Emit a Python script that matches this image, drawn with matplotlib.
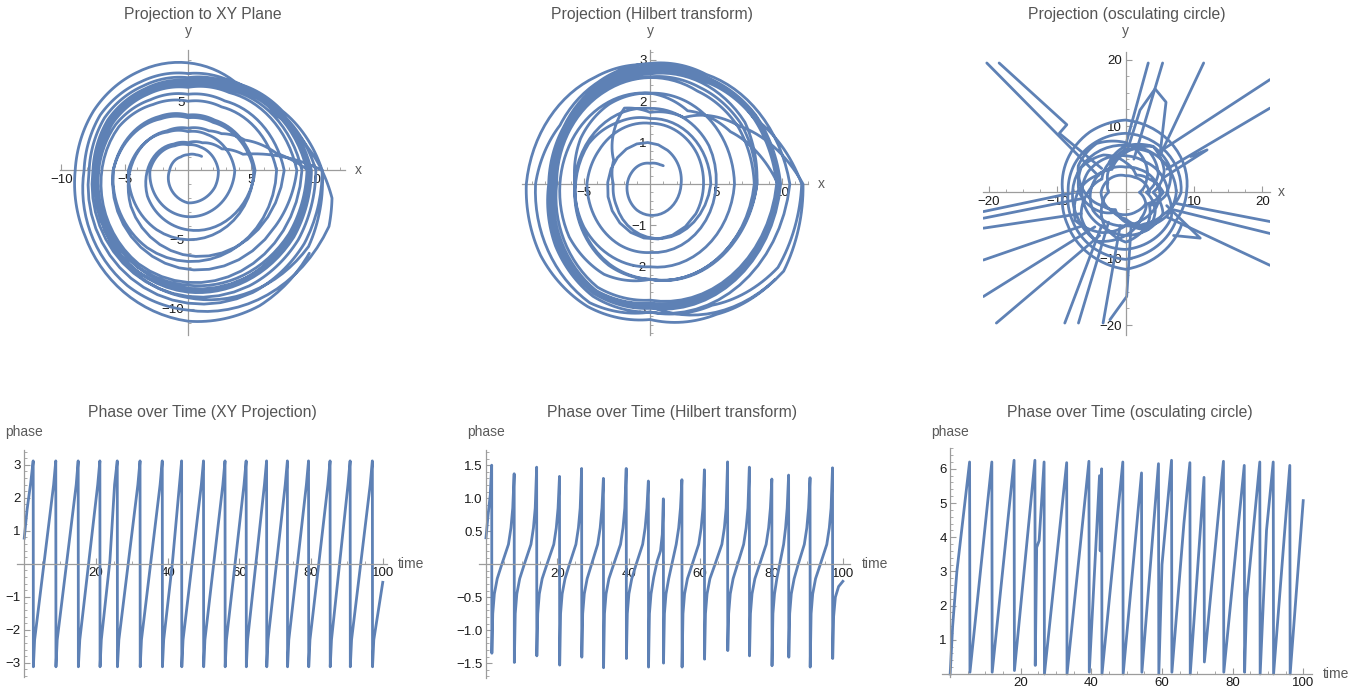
import numpy as np
import matplotlib
matplotlib.use("Agg")
import matplotlib.pyplot as plt
from matplotlib.path import Path
from matplotlib.patches import PathPatch
from matplotlib.ticker import FixedLocator, MultipleLocator, FuncFormatter

plt.rcParams['font.family'] = ['Liberation Sans', 'DejaVu Sans']

W, H = 1372, 696
LINE = '#5e81b5'
AXIS = '#9c9c9c'
LABEL = '#5a5a5a'
LW = 2.0

# --- xy projection: radius at each polar angle (deg), one row per revolution ---
# plain rows are sampled every 30 deg starting at 0; tuple rows list (deg, r)
xy_turns = [
    [(43, 1.48), (60, 1.30), (90, 1.13), (120, 1.12), (150, 1.25), (180, 1.45),
     (210, 1.75), (240, 2.10), (270, 2.35), (300, 2.45), (330, 2.45)],
    [2.40, 2.15, 1.95, 1.85, 2.05, 2.50, 3.00, 3.15, 3.25, 3.30, 3.45, 3.60],
    [3.70, 3.35, 3.00, 2.80, 3.20, 3.95, 4.70, 4.85, 4.95, 5.00, 5.10, 5.15],
    [5.20, 4.60, 4.00, 3.80, 4.30, 5.20, 5.90, 6.20, 6.45, 6.60, 6.80, 6.95],
    [7.00, 6.20, 5.30, 5.00, 5.50, 6.30, 6.80, 7.30, 7.80, 8.10, 8.50, 8.80],
    [9.00, 7.90, 6.70, 6.10, 6.45, 6.95, 7.20, 7.75, 8.50, 9.20, 10.20, 11.00],
    [(0, 10.6), (5, 7.3), (15, 4.5), (30, 3.1), (60, 2.3), (90, 2.0), (120, 2.2),
     (150, 2.75), (180, 3.3), (210, 3.7), (240, 4.05), (270, 4.3), (300, 4.6), (330, 4.95)],
    [5.30, 4.70, 4.20, 4.00, 4.50, 5.30, 5.90, 6.30, 6.75, 7.10, 7.50, 8.00],
    [8.60, 7.60, 6.50, 6.00, 6.35, 6.85, 7.10, 7.60, 8.15, 8.50, 9.00, 9.35],
    [(0, 9.5), (10, 7.1), (26, 5.0), (45, 3.75), (60, 3.3), (90, 3.05), (120, 3.3),
     (150, 3.95), (180, 4.7), (210, 5.2), (240, 5.7), (270, 6.1), (300, 6.6), (330, 7.1)],
    [7.60, 6.70, 5.80, 5.50, 5.90, 6.60, 7.00, 7.50, 8.00, 8.30, 8.80, 9.20],
    [9.40, 8.05, 6.85, 6.20, 6.50, 7.00, 7.15, 7.70, 8.30, 8.60, 9.10, 9.45],
    [9.55, 8.15, 6.95, 6.35, 6.65, 7.10, 7.30, 7.85, 8.45, 8.80, 9.30, 9.65],
    [9.75, 8.25, 7.05, 6.50, 6.80, 7.30, 7.50, 8.05, 8.70, 9.10, 9.65, 10.05],
    [10.10, 8.40, 7.15, 6.70, 7.05, 7.60, 7.80, 8.40, 9.10, 9.60, 10.20, 10.60],
    [(0, 10.6), (30, 8.6), (60, 7.3), (90, 7.0), (120, 7.4), (150, 8.0), (180, 8.2),
     (210, 8.9), (240, 9.6), (270, 10.1), (300, 10.9), (325, 11.6), (340, 11.85),
     (350, 11.55)],
    [(0, 10.8), (10, 9.6), (20, 8.5), (30, 8.0), (60, 7.4), (90, 7.75), (120, 8.15),
     (150, 8.6), (180, 8.9), (210, 9.4), (240, 10.2), (270, 10.9), (300, 11.3), (328, 11.3)],
]

# --- Hilbert projection: radius in x units, vertical part in units of HB_Y_PER_R ---
HB_Y_PER_R = 0.36
hb_turns = [
    [(51, 1.58), (60, 1.50), (90, 1.39), (120, 1.45), (150, 1.60), (180, 1.77),
     (210, 1.92), (240, 2.02), (270, 2.08), (300, 2.18), (330, 2.28)],
    [2.35, 2.45, 2.62, 2.78, 2.95, 3.15, 3.35, 3.45, 3.55, 3.70, 3.85, 4.00],
    [4.10, 4.10, 4.08, 4.08, 4.25, 4.50, 4.80, 4.80, 4.70, 4.60, 4.75, 4.95],
    [5.15, 5.15, 5.10, 5.08, 5.30, 5.55, 5.75, 5.80, 5.70, 5.56, 5.80, 6.10],
    [6.40, 6.35, 6.20, 6.10, 6.30, 6.60, 6.90, 7.10, 7.00, 6.40, 6.90, 7.40],
    [8.10, 8.00, 7.50, 7.20, 7.20, 7.25, 7.30, 7.90, 8.30, 8.20, 9.90, 11.70],
    [(0, 11.6), (30, 7.8), (60, 5.15), (90, 4.81), (111, 5.46), (120, 4.84), (126, 4.47),
     (135, 3.82), (150, 3.2), (165, 2.92), (180, 2.8), (210, 2.95), (240, 3.3),
     (270, 3.75), (300, 4.0), (330, 4.3)],
    [4.60, 4.50, 4.40, 4.40, 4.80, 5.40, 5.70, 6.00, 6.20, 6.40, 6.90, 7.50],
    [8.10, 8.30, 7.80, 7.40, 7.30, 7.25, 7.30, 7.85, 8.25, 8.00, 8.60, 9.30],
    [9.70, 7.03, 5.68, 6.10, 6.20, 6.10, 5.70, 6.00, 6.30, 6.40, 6.90, 7.40],
    [7.90, 7.70, 7.20, 7.10, 7.10, 7.10, 7.10, 7.60, 8.00, 7.80, 8.40, 9.10],
    [9.60, 9.00, 8.00, 7.50, 7.40, 7.30, 7.30, 7.90, 8.30, 8.05, 8.60, 9.30],
    [9.70, 9.10, 8.10, 7.60, 7.50, 7.40, 7.40, 8.00, 8.40, 8.20, 8.75, 9.45],
    [9.80, 9.20, 8.20, 7.75, 7.60, 7.45, 7.50, 8.10, 8.50, 8.35, 8.90, 9.60],
    [9.90, 9.25, 8.30, 7.90, 7.75, 7.60, 7.70, 8.30, 8.70, 8.60, 9.30, 10.10],
    [10.60, 9.50, 8.50, 8.10, 7.90, 7.90, 8.70, 9.00, 9.20, 8.60, 9.40, 11.20],
    [(0, 11.5), (30, 9.0), (60, 8.3), (90, 8.0), (120, 8.3), (150, 8.8), (180, 9.4),
     (210, 9.6), (240, 9.5), (270, 9.1), (300, 10.1), (326, 11.45)],
]

# --- osculating circle centres: loops around the middle plus the far excursions ---
osc_rings = [
    [3.5, 3.0, 2.6, 2.5, 2.9, 3.4, 3.6, 3.5, 3.3, 3.2, 3.3, 3.4],
    [2.0, 3.5, 5.5, 7.5, 8.5, 8.0, 6.0, 4.0, 3.0, 4.5, 6.5, 5.0],
    [5.0, 4.5, 4.0, 3.8, 4.2, 4.8, 5.2, 5.5, 5.3, 5.0, 4.8, 4.9],
    [3.0, 5.5, 7.0, 6.5, 4.5, 3.0, 2.5, 4.0, 6.0, 7.5, 6.0, 4.0],
    [6.2, 5.8, 5.4, 5.5, 5.9, 6.3, 6.4, 6.3, 6.2, 6.5, 6.5, 6.3],
    [4.0, 6.5, 8.0, 7.0, 5.0, 4.0, 5.5, 7.5, 8.5, 6.5, 4.5, 3.5],
    [5.5, 4.0, 3.0, 4.5, 6.5, 7.5, 6.8, 5.0, 3.5, 4.0, 6.0, 7.0],
    [7.4, 7.2, 7.1, 7.1, 7.3, 7.6, 7.7, 8.0, 8.5, 8.6, 8.2, 7.7],
    [6.0, 7.5, 8.0, 6.0, 4.0, 5.0, 7.0, 8.5, 7.0, 5.0, 5.5, 6.5],
    [8.1, 8.4, 8.7, 8.9, 8.8, 8.6, 8.4, 8.9, 9.6, 10.1, 9.3, 8.5],
    [8.9, 9.6, 10.3, 10.9, 10.5, 9.8, 9.2, 9.8, 10.8, 11.6, 10.6, 9.5],
]
osc_spikes = [
    [(-4.0, 2.5), (-20.3, 19.5)],
    [(-3.5, 3.6), (-9.7, 8.9), (-8.6, 10.2), (-18.5, 19.5)],
    [(-0.3, 6.0), (3.3, 19.5)],
    [(1.2, 5.0), (5.4, 19.5)],
    [(0.3, 6.5), (2.1, 12.4), (4.3, 15.6), (5.9, 13.6), (5.0, 5.5)],
    [(5.0, 5.5), (11.4, 19.5)],
    [(5.5, 6.5), (21.1, 17.0)],
    [(6.0, 3.5), (21.1, 12.7)],
    [(5.5, 2.2), (11.9, 6.4), (9.5, 5.4)],
    [(7.5, -1.7), (21.1, -4.4)],
    [(6.5, -2.5), (21.1, -6.2)],
    [(6.0, -3.7), (21.1, -11.0)],
    [(6.0, -2.0), (10.9, -6.9), (7.0, -6.5)],
    [(-6.5, 0.2), (-20.8, -2.9)],
    [(-6.2, -0.9), (-20.8, -3.9)],
    [(-6.5, -3.2), (-20.8, -5.4)],
    [(-6.2, -5.0), (-20.8, -10.2)],
    [(-4.5, -5.2), (-20.8, -15.7)],
    [(-3.8, -6.5), (-18.9, -19.7)],
    [(-3.5, -5.0), (-8.9, -19.7)],
    [(-2.5, -4.5), (-6.9, -19.7)],
    [(-0.8, -5.0), (-3.3, -19.7)],
    [(0.8, -5.0), (0.15, -15.7), (-2.3, -19.2)],
]

# --- phase series (time, phase) ---
xy_phase_t = [0.0, 0.8, 1.8, 2.5, 2.55, 2.9, 8.2, 8.8, 8.85, 9.2, 14.5, 15.05,
              15.1, 15.5, 20.5, 21.1, 21.15, 21.5, 23.9, 25.2, 25.95, 26.0, 26.4, 31.7, 32.3,
              32.35, 32.7, 37.9, 38.5, 38.55, 38.9, 41.3, 43.3, 43.9, 43.95, 44.3, 49.4, 50.0,
              50.05, 50.4, 55.4, 56.0, 56.05, 56.4, 61.3, 61.9, 61.95, 62.3, 67.0, 67.6,
              67.65, 68.0, 72.8, 73.4, 73.45, 73.8, 78.7, 79.3, 79.35, 79.7, 84.7, 85.3,
              85.35, 85.7, 90.3, 90.9, 90.95, 91.3, 96.5, 97.1, 97.15, 97.5, 100.0]
xy_phase_v = [0.78, 1.65, 2.45, 3.12, -3.12, -2.3, 2.4, 3.12, -3.12, -2.3, 2.4, 3.12,
              -3.12, -2.3, 2.4, 3.12, -3.12, -2.3, 0.1, 2.4, 3.12, -3.12, -2.3, 2.4, 3.12,
              -3.12, -2.3, 2.4, 3.12, -3.12, -2.3, 0.0, 2.4, 3.12, -3.12, -2.3, 2.4, 3.12,
              -3.12, -2.3, 2.4, 3.12, -3.12, -2.3, 2.4, 3.12, -3.12, -2.3, 2.4, 3.12,
              -3.12, -2.3, 2.4, 3.12, -3.12, -2.3, 2.4, 3.12, -3.12, -2.3, 2.4, 3.12,
              -3.12, -2.3, 2.4, 3.12, -3.12, -2.3, 2.4, 3.12, -3.12, -2.3, -0.56]

hb_phase = [
    (0.0, 0.40), (0.6, 0.75), (1.2, 1.05), (1.6, 1.50),
    (1.65, -1.35), (1.9, -0.75), (2.35, -0.45), (3.15, -0.22), (4.45, 0.0), (6.3, 0.30), (7.0, 0.55), (7.5, 0.85), (7.9, 1.37),
    (7.95, -1.49), (8.2, -0.75), (8.65, -0.45), (9.45, -0.22), (10.75, 0.0), (12.6, 0.30), (13.3, 0.55), (13.8, 0.85), (14.2, 1.47),
    (14.25, -1.39), (14.5, -0.75), (14.95, -0.45), (15.75, -0.22), (17.1, 0.0), (19.0, 0.30), (19.7, 0.55), (20.2, 0.85), (20.6, 1.33),
    (20.65, -1.53), (20.9, -0.75), (21.35, -0.45), (22.15, -0.22), (23.4, 0.0), (25.2, 0.30), (25.9, 0.55), (26.4, 0.85), (26.8, 1.45),
    (26.85, -1.41), (27.1, -0.75), (27.55, -0.45), (28.35, -0.22), (29.6, 0.0), (31.3, 0.30), (32.0, 0.55), (32.5, 0.85), (32.9, 1.30),
    (32.95, -1.57), (33.2, -0.75), (33.65, -0.45), (34.45, -0.22), (35.8, 0.0), (37.7, 0.30), (38.4, 0.55), (38.9, 0.85), (39.3, 1.45),
    (39.35, -1.43), (39.6, -0.75), (40.05, -0.45), (40.85, -0.22), (42.1, 0.0), (43.9, 0.30), (44.6, 0.55), (45.1, 0.85), (45.5, 1.26),
    (45.55, -1.56), (45.8, -0.75), (46.25, -0.45), (47.0, -0.20), (48.0, 0.05), (48.9, 0.20), (49.4, 0.45), (49.7, 0.99),
    (49.75, -1.50), (50.0, -0.75), (50.45, -0.45), (51.2, -0.22), (52.1, 0.0), (53.3, 0.30), (54.0, 0.55), (54.5, 0.85), (54.9, 1.28),
    (54.95, -1.56), (55.2, -0.75), (55.65, -0.45), (56.45, -0.22), (57.8, 0.0), (59.6, 0.30), (60.3, 0.55), (60.8, 0.85), (61.2, 1.43),
    (61.25, -1.44), (61.5, -0.75), (61.95, -0.45), (62.75, -0.22), (64.2, 0.0), (66.1, 0.30), (66.8, 0.55), (67.3, 0.85), (67.7, 1.55),
    (67.75, -1.31), (68.0, -0.75), (68.45, -0.45), (69.25, -0.22), (70.5, 0.0), (72.2, 0.30), (72.9, 0.55), (73.4, 0.85), (73.8, 1.47),
    (73.85, -1.39), (74.1, -0.75), (74.55, -0.45), (75.35, -0.22), (76.7, 0.0), (78.5, 0.30), (79.2, 0.55), (79.7, 0.85), (80.1, 1.29),
    (80.15, -1.54), (80.4, -0.75), (80.85, -0.45), (81.5, -0.22), (82.3, 0.0), (83.4, 0.30), (83.95, 0.55), (84.4, 0.85), (84.8, 1.35),
    (84.85, -1.41), (85.1, -0.75), (85.55, -0.45), (86.35, -0.22), (87.5, 0.0), (89.2, 0.30), (89.9, 0.55), (90.4, 0.85), (90.8, 1.31),
    (90.85, -1.56), (91.1, -0.75), (91.55, -0.45), (92.35, -0.22), (93.7, 0.0), (95.5, 0.30), (96.2, 0.55), (96.7, 0.85), (97.1, 1.46),
    (97.15, -1.43), (97.4, -0.80), (97.9, -0.50), (98.8, -0.34), (100.0, -0.26),
]

osc_phase = [
    (0.0, 0.0), (0.7, 1.4), (1.9, 3.0), (5.5, 6.2),
    (5.6, 0.05), (11.8, 6.2),
    (11.9, 0.05), (18.1, 6.25),
    (18.2, 0.1), (24.0, 6.25),
    (24.1, 0.25), (24.5, 3.7), (25.2, 3.9), (26.6, 6.2),
    (26.7, 0.0), (33.0, 6.18),
    (33.1, 0.0), (39.3, 6.22),
    (39.4, 0.05), (42.3, 5.8), (42.5, 3.6), (42.9, 6.0),
    (43.0, 0.0), (48.9, 6.2),
    (49.0, 0.0), (54.2, 5.88),
    (54.3, 0.05), (59.0, 6.15),
    (59.1, 0.0), (60.0, 3.2), (62.7, 6.25),
    (62.8, 0.05), (66.2, 4.4), (67.9, 6.18),
    (68.0, 0.0), (71.9, 5.75),
    (72.0, 0.35), (77.4, 6.22),
    (77.5, 0.05), (83.3, 6.1),
    (83.4, 0.05), (84.0, 2.2), (87.7, 6.2),
    (87.8, 0.0), (89.6, 4.2), (91.5, 6.2),
    (91.6, 0.0), (96.2, 6.1),
    (96.3, 0.0), (100.0, 5.07),
]

GRID30 = list(range(0, 360, 30))


def unroll(turns):
    """Flatten per-revolution rows into continuous (theta, r) arrays."""
    deg, rad = [], []
    for k, row in enumerate(turns):
        pairs = row if isinstance(row[0], tuple) else zip(GRID30, row)
        for d, r in pairs:
            deg.append(d + 360 * k)
            rad.append(r)
    return np.radians(deg), np.array(rad)


fig = plt.figure(figsize=(W / 100, H / 100), dpi=100)


def make_axes(box, xlim, ylim):
    l, r, t, b = box
    ax = fig.add_axes([l / W, 1 - b / H, (r - l) / W, (b - t) / H])
    ax.set_xlim(xlim)
    ax.set_ylim(ylim)
    ax.patch.set_visible(False)
    for s in ('top', 'right'):
        ax.spines[s].set_visible(False)
    for s in ('left', 'bottom'):
        ax.spines[s].set_position(('data', 0))
        ax.spines[s].set_color(AXIS)
        ax.spines[s].set_linewidth(0.9)
    return ax


def set_ticks(ax, xt, xminor, yt, yminor, xfmt='%d', yfmt='%d'):
    ax.xaxis.set_major_locator(FixedLocator(xt))
    ax.yaxis.set_major_locator(FixedLocator(yt))
    ax.xaxis.set_minor_locator(MultipleLocator(xminor))
    ax.yaxis.set_minor_locator(MultipleLocator(yminor))
    ax.xaxis.set_major_formatter(FuncFormatter(lambda v, p: (xfmt % v).replace('-', '\u2212')))
    ax.yaxis.set_major_formatter(FuncFormatter(lambda v, p: (yfmt % v).replace('-', '\u2212')))
    ax.tick_params(which='major', direction='in', length=4.5, width=0.8, color=AXIS,
                   labelsize=9.5, labelcolor='#1a1a1a', pad=2.5)
    ax.tick_params(which='minor', direction='in', length=2.5, width=0.6, color=AXIS)


def axis_names(ax, xname, yname, xgap, ygap):
    ax.text(1 + xgap, 0, xname, transform=ax.get_yaxis_transform(), ha='left',
            va='center', fontsize=10, color=LABEL)
    ax.text(0, 1 + ygap, yname, transform=ax.get_xaxis_transform(), ha='center',
            va='center', fontsize=10, color=LABEL)


def polar_overlay(ax, rmax, v_unit=1.0):
    """Transparent polar axes centred on ax's origin; one radial unit spans one
    x unit horizontally and v_unit y units vertically."""
    pos = ax.get_position()
    x0, x1 = ax.get_xlim()
    y0, y1 = ax.get_ylim()
    sx = pos.width / (x1 - x0)
    sy = pos.height / (y1 - y0)
    cx = pos.x0 - x0 * sx
    cy = pos.y0 - y0 * sy
    w = 2 * rmax * sx
    h = 2 * rmax * sy * v_unit
    pax = fig.add_axes([cx - w / 2, cy - h / 2, w, h], projection='polar')
    pax.set_aspect('auto')
    pax.set_axis_off()
    pax.set_ylim(0, rmax)
    return pax


def spiral(pax, theta, r):
    # steps > 1 lets the polar transform sweep each segment as an arc
    path = Path(np.column_stack([theta, r]), _interpolation_steps=16)
    pax.add_patch(PathPatch(path, fill=False, edgecolor=LINE, lw=LW,
                            joinstyle='round', capstyle='round'))


def title(cx, cy, text):
    fig.text(cx / W, 1 - cy / H, text, ha='center', va='center',
             fontsize=11.3, color='#555555')


# top row: projections
ax1 = make_axes((60, 345, 50, 335), (-10.1, 12.4), (-11.9, 8.7))
set_ticks(ax1, [-10, -5, 5, 10], 1, [-10, -5, 5], 1)
axis_names(ax1, 'x', 'y', 0.035, 0.067)
th, r = unroll(xy_turns)
spiral(polar_overlay(ax1, 14), th, r)
title(203, 15, 'Projection to XY Plane')

ax2 = make_axes((521.7, 808.3, 50, 335), (-9.75, 12.0), (-3.65, 3.24))
set_ticks(ax2, [-5, 5, 10], 1, [-3, -2, -1, 1, 2, 3], 0.2)
axis_names(ax2, 'x', 'y', 0.034, 0.067)
th, r = unroll(hb_turns)
spiral(polar_overlay(ax2, 14, HB_Y_PER_R), th, r)
title(652, 15, 'Projection (Hilbert transform)')

ax3 = make_axes((982.7, 1270, 51.7, 335), (-20.9, 21.1), (-21.5, 21.2))
set_ticks(ax3, [-20, -10, 10, 20], 2.5, [-20, -10, 10, 20], 2.5)
axis_names(ax3, 'x', 'y', 0.028, 0.073)
th, r = unroll(osc_rings)
spiral(polar_overlay(ax3, 14), th, r)
for seg in osc_spikes:
    sx, sy = zip(*seg)
    ax3.plot(sx, sy, color=LINE, lw=LW, solid_joinstyle='round', solid_capstyle='round')
title(1127, 15, 'Projection (osculating circle)')

# bottom row: phase against time
ax4 = make_axes((16.7, 386.7, 450, 676.7), (-2.1, 101.1), (-3.42, 3.45))
set_ticks(ax4, [20, 40, 60, 80, 100], 5, [-3, -2, -1, 1, 2, 3], 0.2)
axis_names(ax4, 'time', 'phase', 0.03, 0.079)
ax4.plot(xy_phase_t, xy_phase_v, color=LINE, lw=LW, solid_joinstyle='round')
title(202, 413, 'Phase over Time (XY Projection)')

ax5 = make_axes((479.3, 850, 450, 678.3), (-1.87, 102), (-1.73, 1.73))
set_ticks(ax5, [20, 40, 60, 80, 100], 5, [-1.5, -1.0, -0.5, 0.5, 1.0, 1.5], 0.1, yfmt='%.1f')
axis_names(ax5, 'time', 'phase', 0.032, 0.079)
t, v = zip(*hb_phase)
ax5.plot(t, v, color=LINE, lw=LW, solid_joinstyle='round')
title(672, 413, 'Phase over Time (Hilbert transform)')

ax6 = make_axes((941.7, 1311.7, 448.3, 676.7), (-2.4, 102.4), (-0.08, 6.6))
set_ticks(ax6, [20, 40, 60, 80, 100], 5, [1, 2, 3, 4, 5, 6], 0.2)
axis_names(ax6, 'time', 'phase', 0.03, 0.072)
t, v = zip(*osc_phase)
ax6.plot(t, v, color=LINE, lw=LW, solid_joinstyle='round')
title(1130, 413, 'Phase over Time (osculating circle)')

fig.savefig('out.png', dpi=100)
